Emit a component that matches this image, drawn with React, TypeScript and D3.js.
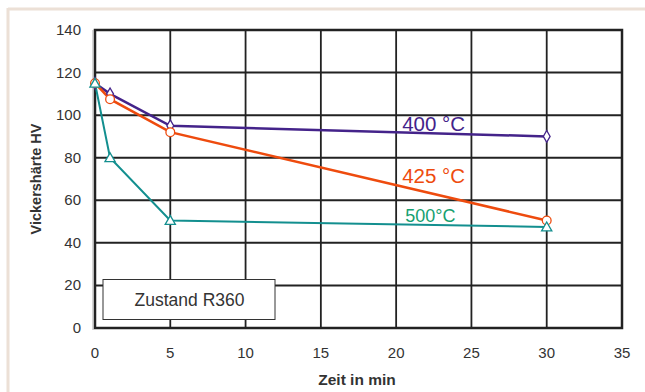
import React, { useEffect, useRef } from 'react';
import * as d3 from 'd3';

// time in minutes, hardness HV
const times = [0, 1, 5, 30];
const hv400 = [115, 110, 95, 90];
const hv425 = [115, 107.5, 92, 50.5];
const hv500 = [115, 80, 50.5, 47.5];
const xTicks = [0, 5, 10, 15, 20, 25, 30, 35];
const yTicks = [0, 20, 40, 60, 80, 100, 120, 140];

const series = [
  { name: '400 °C', values: hv400, color: '#44238a', labelColor: '#44238a', marker: 'diamond', lx: 20.4, ly: 92.5, fs: 20.5 },
  { name: '425 °C', values: hv425, color: '#ee4b0e', labelColor: '#ee4b0e', marker: 'circle', lx: 20.4, ly: 68.3, fs: 20.5 },
  { name: '500°C', values: hv500, color: '#138f8f', labelColor: '#16a070', marker: 'triangle', lx: 20.6, ly: 50, fs: 18 },
];

function App() {
  const ref = useRef<SVGSVGElement>(null);

  useEffect(() => {
    const svg = d3.select(ref.current);
    svg.selectAll('*').remove();

    const left = 95, right = 622, top = 30, bottom = 328;
    const x = d3.scaleLinear().domain([0, 35]).range([left, right]);
    const y = d3.scaleLinear().domain([0, 140]).range([bottom, top]);
    const font = 'Liberation Sans, Arial, sans-serif';

    // beige frame
    svg.append('rect').attr('x', 0).attr('y', 0).attr('width', 645).attr('height', 392).attr('fill', '#fff');
    svg.append('line').attr('x1', 8).attr('x2', 8).attr('y1', 8).attr('y2', 392)
      .attr('stroke', '#ece0d6').attr('stroke-width', 3);
    svg.append('line').attr('x1', 8).attr('x2', 645).attr('y1', 9).attr('y2', 9)
      .attr('stroke', '#ece0d6').attr('stroke-width', 3);

    // grid
    const g = svg.append('g');
    xTicks.slice(1, -1).forEach(t => {
      g.append('line').attr('x1', x(t)).attr('x2', x(t)).attr('y1', top).attr('y2', bottom)
        .attr('stroke', '#222').attr('stroke-width', 1.8);
    });
    yTicks.slice(1, -1).forEach(t => {
      g.append('line').attr('x1', left).attr('x2', right).attr('y1', y(t)).attr('y2', y(t))
        .attr('stroke', '#222').attr('stroke-width', 2);
    });
    g.append('rect').attr('x', left).attr('y', top).attr('width', right - left).attr('height', bottom - top)
      .attr('fill', 'none').attr('stroke', '#222').attr('stroke-width', 2.5);
    g.append('line').attr('x1', left - 2).attr('x2', left - 2).attr('y1', top).attr('y2', bottom + 2)
      .attr('stroke', '#aaa').attr('stroke-width', 1);

    // tick labels
    yTicks.forEach(t => {
      svg.append('text').attr('x', 81).attr('y', y(t) + 5).attr('text-anchor', 'end')
        .attr('font-family', font).attr('font-size', 15).attr('fill', '#333').text(t);
    });
    xTicks.forEach(t => {
      svg.append('text').attr('x', x(t)).attr('y', 358).attr('text-anchor', 'middle')
        .attr('font-family', font).attr('font-size', 15).attr('fill', '#333').text(t);
    });

    // axis titles
    svg.append('text').attr('transform', `translate(41,${(top + bottom) / 2}) rotate(-90)`)
      .attr('text-anchor', 'middle').attr('font-family', font).attr('font-size', 14.5)
      .attr('font-weight', 'bold').attr('fill', '#333').text('Vickershärte HV');
    svg.append('text').attr('x', 357).attr('y', 385).attr('text-anchor', 'middle')
      .attr('font-family', font).attr('font-size', 15.5).attr('font-weight', 'bold')
      .attr('fill', '#333').text('Zeit in min');

    // series
    series.forEach(s => {
      const pts = times.map((t, i) => [x(t), y(s.values[i])] as [number, number]);
      svg.append('path').attr('d', d3.line()(pts)).attr('fill', 'none')
        .attr('stroke', s.color).attr('stroke-width', s.marker === 'triangle' ? 2 : 2.5);
    });
    series.forEach(s => {
      const sym = s.marker === 'diamond' ? d3.symbolDiamond : s.marker === 'circle' ? d3.symbolCircle : d3.symbolTriangle;
      const size = s.marker === 'diamond' ? 40 : s.marker === 'circle' ? 60 : 45;
      times.forEach((t, i) => {
        svg.append('path').attr('d', d3.symbol().type(sym).size(size)())
          .attr('transform', `translate(${x(t)},${y(s.values[i]) + (s.marker === 'triangle' ? 1 : 0)})`)
          .attr('fill', '#fff').attr('stroke', s.color).attr('stroke-width', 1.3);
      });
      svg.append('text').attr('x', x(s.lx)).attr('y', y(s.ly)).attr('font-family', font)
        .attr('font-size', s.fs).attr('fill', s.labelColor).text(s.name);
    });

    // state box
    svg.append('rect').attr('x', 103).attr('y', 279.5).attr('width', 172).attr('height', 40)
      .attr('fill', '#fff').attr('stroke', '#333').attr('stroke-width', 1);
    svg.append('text').attr('x', 189.5).attr('y', 306).attr('text-anchor', 'middle')
      .attr('font-family', font).attr('font-size', 17.5).attr('fill', '#333').text('Zustand R360');
  }, []);

  return <svg ref={ref} width={645} height={392} style={{ position: 'absolute', left: 0, top: 0 }} />;
}

export default App;
